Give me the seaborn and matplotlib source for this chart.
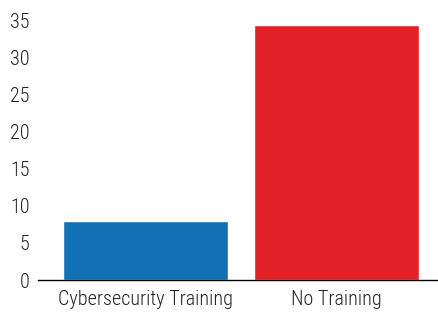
import matplotlib
matplotlib.use('Agg')
import matplotlib.pyplot as plt
import seaborn as sns
import pandas as pd

categories = ['Cybersecurity Training', 'No Training']
values = [8.0, 34.3]
bar_colors = ['#1270b4', '#e22028']
yticks = [0, 5, 10, 15, 20, 25, 30, 35]

sns.set_style('white')
plt.rcParams['font.family'] = ['Roboto Condensed', 'Liberation Sans', 'DejaVu Sans']

df = pd.DataFrame({'group': categories, 'value': values})

fig = plt.figure(figsize=(4.38, 3.12), dpi=100)
ax = fig.add_axes([38 / 438, 1 - 280 / 312, 400 / 438, 260 / 312])
sns.barplot(data=df, x='group', y='value', hue='group', palette=bar_colors,
            width=0.865, saturation=1, legend=False, ax=ax)

ax.set_xlim(-0.565, 1.53)
ax.set_ylim(0, 35)
ax.set_yticks(yticks)
ax.set_xlabel('')
ax.set_ylabel('')
for s in ['top', 'right', 'left']:
    ax.spines[s].set_visible(False)
ax.spines['bottom'].set_color('black')
ax.spines['bottom'].set_linewidth(1.0)
ax.tick_params(axis='both', length=0, labelsize=14.5, colors='#222222')
ax.tick_params(axis='x', pad=7)
ax.tick_params(axis='y', pad=6)
for lab in ax.get_yticklabels():
    lab.set_fontweight('light')
for lab in ax.get_xticklabels():
    lab.set_fontweight('light')

fig.savefig('out.png', dpi=100)
